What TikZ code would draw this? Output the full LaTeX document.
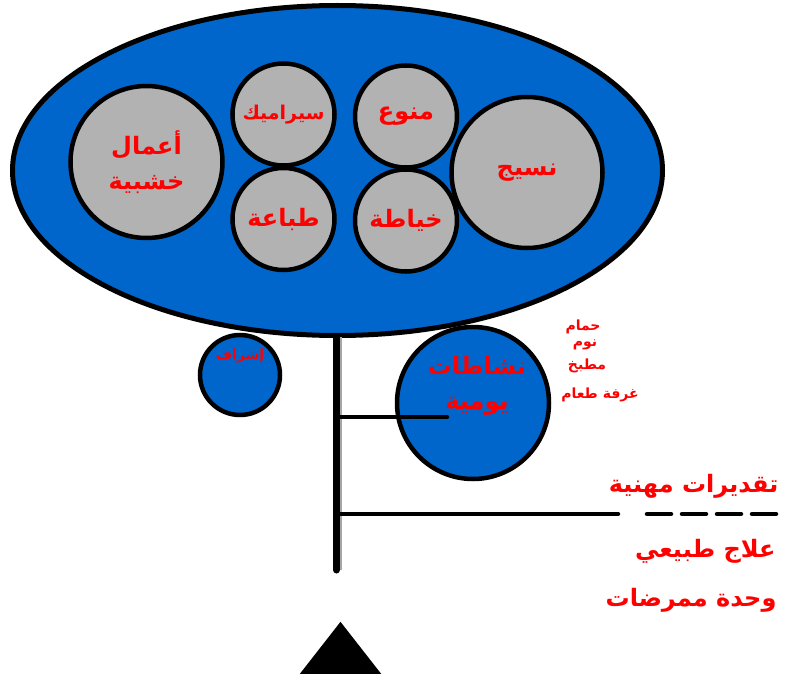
\documentclass[tikz,border=0pt]{standalone}
\usepackage{fontspec}
\usepackage{tikz}
\usetikzlibrary{shapes.geometric}
\newfontfamily\arabicfont[Script=Arabic]{DejaVu Sans}
\TeXXeTstate=1
\definecolor{hubblue}{RGB}{0,102,204}
\definecolor{ballgray}{RGB}{178,178,178}
\definecolor{labelred}{RGB}{255,0,0}
\newcommand{\ar}[1]{\beginR #1\endR}

\begin{document}
\begin{tikzpicture}[x=1pt,y=-1pt,
  every node/.style={text=labelred},
  ball/.style={circle,draw=black,line width=4.5pt,inner sep=0pt,align=center},
  grayball/.style={ball,fill=ballgray},
  blueball/.style={ball,fill=hubblue},
  bigtxt/.style={font=\arabicfont\bfseries\fontsize{24}{35}\selectfont},
  midtxt/.style={font=\arabicfont\bfseries\fontsize{19}{24}\selectfont},
  smalltxt/.style={font=\arabicfont\bfseries\fontsize{14}{18}\selectfont},
  bar/.style={line width=4.5pt,line cap=round}]
\useasboundingbox (0,0) rectangle (785,682);
% circles hanging under the hub
\node[blueball,minimum size=80pt] (super) at (240,375) {};
\node[blueball,minimum size=152pt] (daily) at (473,403) {};
% hub
\node[ellipse,draw=black,line width=5pt,fill=hubblue,minimum width=650pt,minimum height=330pt] (hub) at (337.5,170.5) {};
\node[grayball,minimum size=152pt,bigtxt] (wood) at (146.5,162) {\ar{أعمال}\\\ar{خشبية}};
\node[grayball,minimum size=102pt,midtxt] (ceramic) at (283.5,114.5) {\ar{سيراميك}};
\node[grayball,minimum size=102pt,bigtxt] (print) at (283.5,219) {\ar{طباعة}};
\node[grayball,minimum size=102pt,bigtxt] (misc) at (406,116.5) {\ar{منوع}};
\node[grayball,minimum size=102pt,bigtxt] (sew) at (406,220.5) {\ar{خياطة}};
\node[grayball,minimum size=151pt,bigtxt] (weave) at (527,172.5) {\ar{نسيج}};
% stem
\coordinate (stemtop) at (336.5,337);
\coordinate (stembot) at (336.5,570);
\coordinate (fork1) at (336.5,417);
\coordinate (fork2) at (336.5,514);
\coordinate (dailyend) at (447,417);
\coordinate (lineend) at (618,514);
\coordinate (dashstart) at (647,514);
\coordinate (dashend) at (776,514);
\draw[gray!70,line width=2pt] ([xshift=4.5pt]stemtop) -- ([xshift=4.5pt]stembot);
\draw[line width=7pt,line cap=round] (stemtop) -- (stembot);
\draw[bar] (fork1) -- (dailyend);
\draw[bar] (fork2) -- (lineend);
\draw[bar,dash pattern=on 24pt off 11pt] (dashstart) -- (dashend);
% labels under the hub
\node[smalltxt] (superlbl) at (240,356) {\ar{إشراف}};
\node[bigtxt,align=center] (dailylbl) at (477,386) {\ar{نشاطات}\\\ar{يومية}};
% rooms
\node[smalltxt] (bath) at (583,327) {\ar{حمام}};
\node[smalltxt] (sleep) at (585,345) {\ar{نوم}};
\node[smalltxt] (kitchen) at (587,366) {\ar{مطبخ}};
\node[smalltxt] (dining) at (600,395) {\ar{غرفة طعام}};
% right labels
\node[bigtxt,anchor=east] (skills) at (782,486) {\ar{تقديرات مهنية}};
\node[bigtxt,anchor=east] (physio) at (779,551) {\ar{علاج طبيعي}};
\node[bigtxt,anchor=east] (nurses) at (780,600) {\ar{وحدة ممرضات}};
% base
\node[isosceles triangle,shape border rotate=90,isosceles triangle apex angle=76,fill=black,inner sep=0pt,minimum height=52pt,minimum width=81pt] (base) at (340.5,654) {};
\end{tikzpicture}
\end{document}
